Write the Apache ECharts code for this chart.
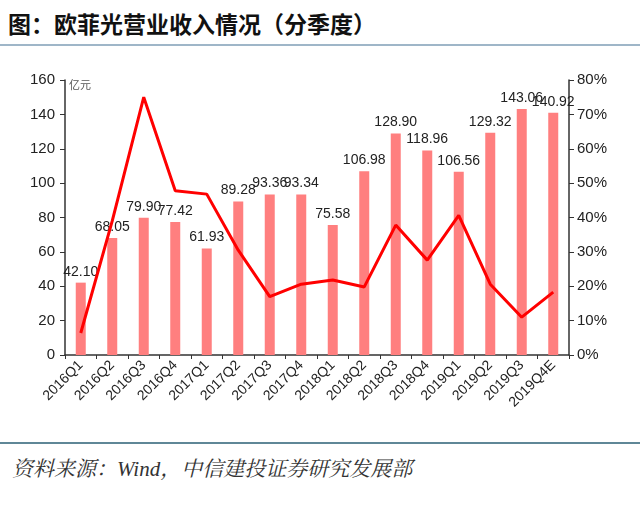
<!DOCTYPE html>
<html><head><meta charset="utf-8">
<script src="https://cdn.jsdelivr.net/npm/echarts@6/dist/echarts.min.js"></script>
<style>
html,body{margin:0;padding:0;background:#fff;}
#wrap{position:relative;width:640px;height:511px;}
#title{position:absolute;left:8px;top:6px;font-family:"Noto Sans CJK SC";font-weight:bold;font-size:23px;color:#111;}
#l1{position:absolute;left:0;top:44px;width:640px;height:2px;background:#9fb6c8;}
#l2{position:absolute;left:0;top:442px;width:640px;height:2px;background:#5f8797;}
#src{position:absolute;left:12px;top:452px;font-family:"Noto Serif CJK SC","Noto Sans CJK SC",serif;font-style:italic;font-size:21px;color:#333;}
#chart{position:absolute;left:0;top:50px;width:640px;height:390px;}
</style></head>
<body><div id="wrap">
<div id="title">图：欧菲光营业收入情况（分季度）</div>
<div id="l1"></div>
<div id="chart"></div>
<div id="l2"></div>
<div id="src">资料来源：<span style="font-family:'Liberation Serif'">Wind</span>，中信建投证券研究发展部</div>
</div>
<script>
const categories = ["2016Q1","2016Q2","2016Q3","2016Q4","2017Q1","2017Q2","2017Q3","2017Q4","2018Q1","2018Q2","2018Q3","2018Q4","2019Q1","2019Q2","2019Q3","2019Q4E"];
const revenue = [42.10,68.05,79.90,77.42,61.93,89.28,93.36,93.34,75.58,106.98,128.90,118.96,106.56,129.32,143.06,140.92];
const growth = [6.4,39,75,47.8,46.8,30.5,17,20.6,21.8,19.8,37.8,27.6,40.6,20.6,11,18.3];
const leftTicks = [0,20,40,60,80,100,120,140,160];
const rightTicks = ["0%","10%","20%","30%","40%","50%","60%","70%","80%"];

const chart = echarts.init(document.getElementById('chart'));
const axisTxt = {color:'#222', fontSize:15, fontFamily:'Liberation Sans, Arial'};
chart.setOption({
  animation:false,
  grid:{left:65, right:71, top:30, bottom:85},
  xAxis:{type:'category', data:categories,
    axisLine:{lineStyle:{color:'#333', width:1.5}},
    axisTick:{show:true, length:4, lineStyle:{color:'#333'}},
    axisLabel:{rotate:45, color:'#222', fontSize:14, fontFamily:'Liberation Sans, Arial', margin:8, interval:0}},
  yAxis:[
    {type:'value', min:0, max:160, interval:20, name:'亿元', nameGap:2,
     nameLocation:'end', nameTextStyle:{align:'left', fontSize:11, color:'#555', padding:[0,0,-12,4], fontFamily:'Noto Sans CJK SC'},
     axisLine:{show:true, lineStyle:{color:'#333', width:1.5}},
     axisTick:{show:true, length:5, lineStyle:{color:'#333'}},
     splitLine:{show:false},
     axisLabel:Object.assign({margin:10, formatter:v=>String(v)}, axisTxt)},
    {type:'value', min:0, max:80, interval:10,
     axisLine:{show:true, lineStyle:{color:'#333', width:1.5}},
     axisTick:{show:true, length:5, lineStyle:{color:'#333'}},
     splitLine:{show:false},
     axisLabel:Object.assign({margin:8, formatter:v=>rightTicks[Math.round(v/10)]}, axisTxt)}
  ],
  series:[
    {type:'bar', data:revenue, barWidth:10, itemStyle:{color:'#ff7f7f'},
     label:{show:true, position:'top', distance:4, color:'#222', fontSize:14, fontFamily:'Liberation Sans, Arial', formatter:p=>p.value.toFixed(2)}},
    {type:'line', yAxisIndex:1, data:growth, symbol:'none', lineStyle:{color:'#ff0000', width:3}, z:5}
  ]
});
</script>
</body></html>
